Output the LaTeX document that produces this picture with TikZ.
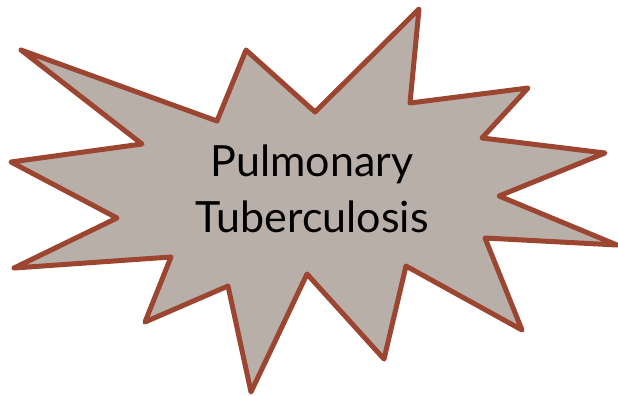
\documentclass[tikz,border=0pt]{standalone}
\usepackage{fontspec}
\setmainfont{Lato}
\definecolor{burstfill}{RGB}{185,175,169}
\definecolor{burstline}{RGB}{156,70,50}
\begin{document}
\begin{tikzpicture}[x=1bp, y=-1bp,
    burst/.style={fill=burstfill, draw=burstline, line width=5bp, line join=round},
    burstlabel/.style={align=center, font=\fontsize{43bp}{56bp}\selectfont, text=black}]
  \useasboundingbox (0,0) rectangle (618,395);
  \draw[burst] (21,50) -- (217,121) -- (246,50) -- (315,112) -- (419,9) -- (410,103)
    -- (528,88) -- (482,138) -- (605,153) -- (499,196) -- (617,245) -- (485,238)
    -- (522,330) -- (406,266) -- (384,359) -- (307,274) -- (251,392) -- (228,286)
    -- (145,322) -- (171,257) -- (14,268) -- (117,218) -- (11,162) -- (142,144) -- cycle;
  \node[burstlabel] (label) at (312,189) {Pulmonary\\Tuberculosis};
\end{tikzpicture}
\end{document}
